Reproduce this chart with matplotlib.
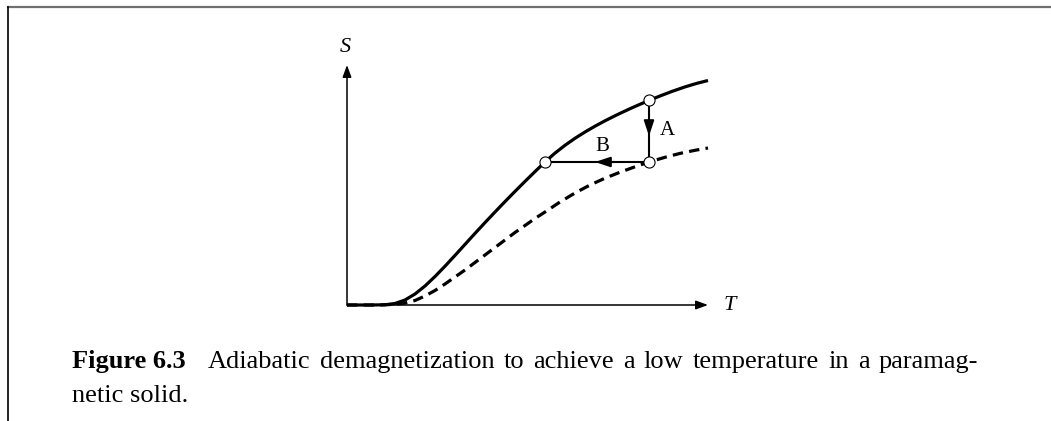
import matplotlib.pyplot as plt
from matplotlib.lines import Line2D

plt.rcParams['font.family'] = ['Liberation Serif', 'DejaVu Serif']
plt.rcParams['lines.scale_dashes'] = False

# entropy vs temperature, low field (solid) and high field (dashed)
T_low = [0, 0.23, 0.38, 0.48, 0.58, 0.68, 0.78, 0.88, 0.98, 1.08, 1.18, 1.28,
         1.38, 1.48, 1.58, 1.68, 1.78, 1.88, 1.98, 2.08, 2.18, 2.28, 2.38,
         2.48, 2.58, 2.70, 2.83, 2.93, 3.02, 3.13, 3.25, 3.38, 3.50, 3.61]
S_low = [0, 0, 0.002, 0.015, 0.05, 0.11, 0.19, 0.285, 0.388, 0.496, 0.606,
         0.716, 0.824, 0.93, 1.034, 1.136, 1.236, 1.334, 1.43, 1.519, 1.597,
         1.667, 1.73, 1.788, 1.842, 1.902, 1.963, 2.007, 2.046, 2.09, 2.136,
         2.181, 2.217, 2.245]

T_high = [0, 0.33, 0.48, 0.58, 0.68, 0.78, 0.88, 0.98, 1.08, 1.18, 1.28, 1.38,
          1.48, 1.58, 1.68, 1.78, 1.88, 1.98, 2.13, 2.28, 2.43, 2.58, 2.73,
          2.88, 3.02, 3.18, 3.33, 3.48, 3.61]
S_high = [0, 0, 0.007, 0.02, 0.045, 0.09, 0.145, 0.21, 0.28, 0.35, 0.425,
          0.50, 0.575, 0.65, 0.725, 0.795, 0.865, 0.93, 1.03, 1.12, 1.20,
          1.268, 1.328, 1.382, 1.43, 1.477, 1.516, 1.547, 1.57]

# process states: start, after step A, after step B
T_pts = [3.02, 3.02, 1.98]
S_pts = [2.046, 1.43, 1.43]

T_max, S_max = 3.61, 2.40

caption_1 = 'Adiabatic demagnetization to achieve a low temperature in a paramag-'
caption_2 = 'netic solid.'

W, H = 1051, 421
fig = plt.figure(figsize=(W / 100, H / 100), dpi=100)

# page frame
fig.add_artist(Line2D([8 / W, 1], [1 - 7 / H, 1 - 7 / H], color='#707070', lw=1.6))
fig.add_artist(Line2D([8 / W, 8 / W], [0, 1 - 7 / H], color='k', lw=1.2))

ax = fig.add_axes([347 / W, (H - 305) / H, (708 - 347) / W, (305 - 65) / H])
ax.set_xlim(0, T_max)
ax.set_ylim(0, S_max)
ax.axis('off')

# axes with arrows
ax_arrow = dict(arrowstyle='-|>,head_length=0.6,head_width=0.22',
                mutation_scale=12, lw=1.1, color='k', shrinkA=0, shrinkB=0)
ax.annotate('', xy=(T_max, 0), xytext=(0, 0), arrowprops=ax_arrow,
            annotation_clip=False)
ax.annotate('', xy=(0, S_max), xytext=(0, 0), arrowprops=ax_arrow,
            annotation_clip=False)
ax.text(T_max + 0.16, 0, 'T', style='italic', fontsize=16,
        ha='left', va='center')
ax.text(-0.02, S_max + 0.18, 'S', style='italic', fontsize=16,
        ha='center', va='center')

ax.plot(T_low, S_low, color='k', lw=2.3, clip_on=False,
        solid_capstyle='butt')
ax.plot(T_high, S_high, color='k', lw=2.3, dashes=(7.5, 4.5), clip_on=False)

# step A (vertical) and step B (horizontal)
ax.plot([T_pts[0], T_pts[1]], [S_pts[0], S_pts[1]], color='k', lw=1.5)
ax.plot([T_pts[1], T_pts[2]], [S_pts[1], S_pts[2]], color='k', lw=1.5)
mid_arrow = dict(arrowstyle='-|>,head_length=0.75,head_width=0.25',
                 mutation_scale=12, lw=1.5, color='k', shrinkA=0, shrinkB=0)
ax.annotate('', xy=(3.02, 1.69), xytext=(3.02, 1.85), arrowprops=mid_arrow)
ax.annotate('', xy=(2.48, 1.43), xytext=(2.68, 1.43), arrowprops=mid_arrow)
ax.text(3.20, 1.75, 'A', fontsize=15, ha='center', va='center')
ax.text(2.55, 1.59, 'B', fontsize=15, ha='center', va='center')

ax.plot(T_pts, S_pts, 'o', ms=8, mfc='white', mec='k', mew=0.8,
        clip_on=False, zorder=5)

# caption, first line justified between x0 and x1 (pixels)
fig.text(72 / W, 1 - 368 / H, 'Figure 6.3', fontsize=19, fontweight='bold',
         va='baseline', ha='left')
renderer = fig.canvas.get_renderer()
words = caption_1.split()
x0, x1 = 208, 978
arts = [fig.text(0, 1 - 368 / H, w, fontsize=19, va='baseline', ha='left')
        for w in words]
widths = [a.get_window_extent(renderer).width for a in arts]
gap = (x1 - x0 - sum(widths)) / (len(words) - 1)
x = x0
for a, w in zip(arts, widths):
    a.set_x(x / W)
    x += w + gap
fig.text(72 / W, 1 - 402 / H, caption_2, fontsize=19,
         va='baseline', ha='left')

fig.savefig('out.png', dpi=100)
